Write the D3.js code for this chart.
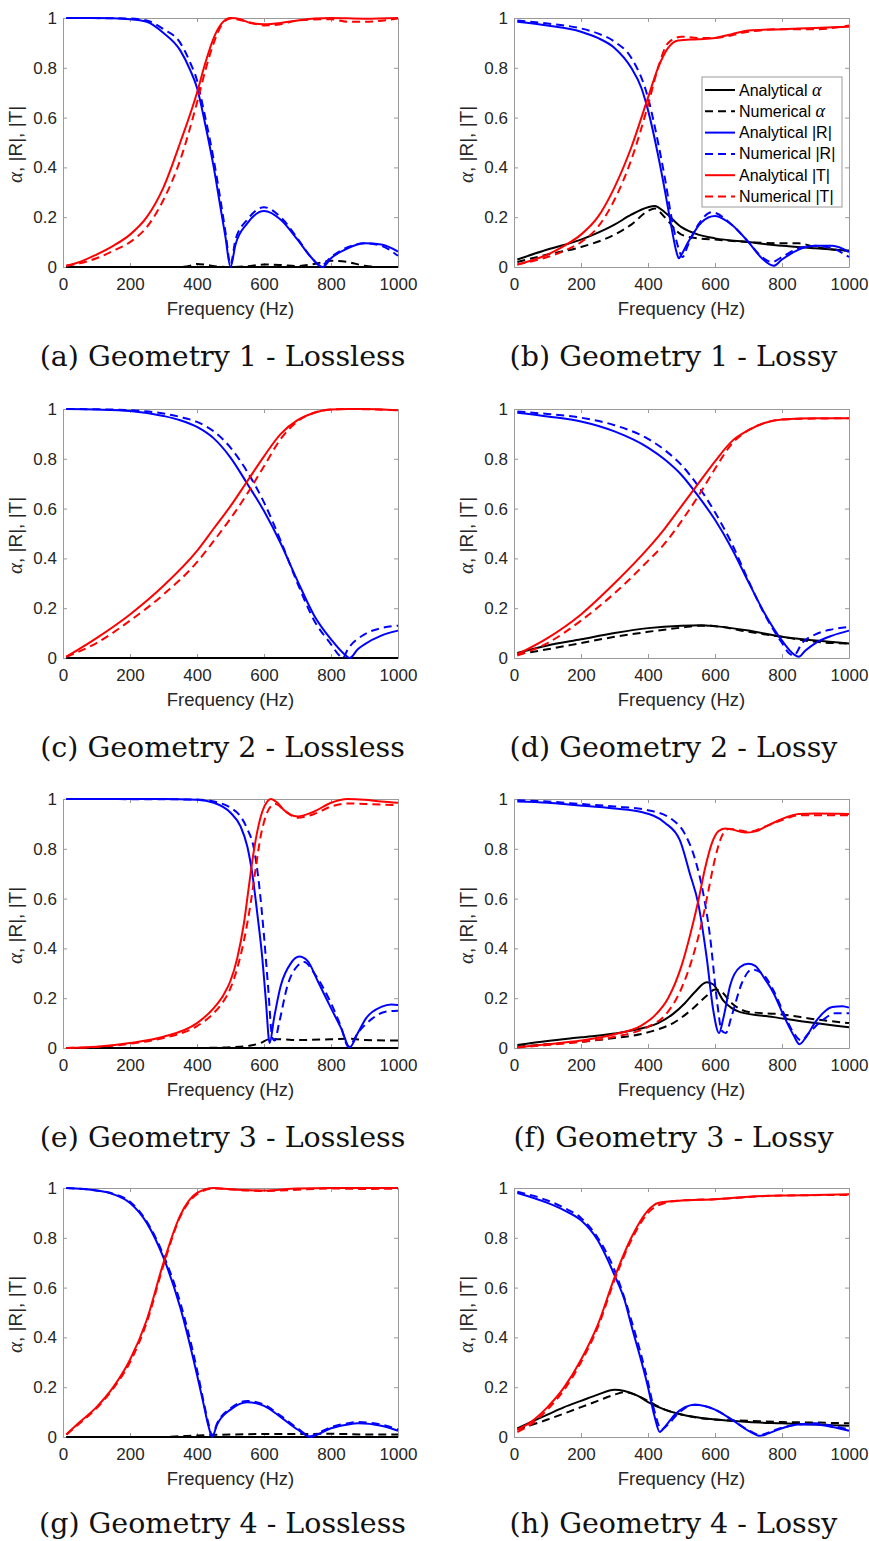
<!DOCTYPE html>
<html>
<head>
<meta charset="utf-8">
<script src="https://cdn.jsdelivr.net/npm/d3@7"></script>
<style>
  body { margin: 0; background: #fff; }
</style>
</head>
<body>
<div id="chart"></div>
<script>
// ---- axis ticks / labels ----
const xTicks = [0, 200, 400, 600, 800, 1000];
const yTicks = [0, 0.2, 0.4, 0.6, 0.8, 1];
const captions = [
  '(a) Geometry 1 - Lossless', '(b) Geometry 1 - Lossy',
  '(c) Geometry 2 - Lossless', '(d) Geometry 2 - Lossy',
  '(e) Geometry 3 - Lossless', '(f) Geometry 3 - Lossy',
  '(g) Geometry 4 - Lossless', '(h) Geometry 4 - Lossy'
];
const legendNames = ['Analytical ', 'Numerical ', 'Analytical |R|', 'Numerical |R|', 'Analytical |T|', 'Numerical |T|'];

// ---- data: [frequency (Hz), value] ----
// Geometry 1 lossless
const g1lAa = [[10,0],[1000,0]];
const g1lAn = [[10,0],[350,0],[380,0.005],[400,0.012],[430,0.008],[460,0.002],[500,0],[550,0.003],[600,0.01],[650,0.008],[700,0.004],[750,0.012],[800,0.025],[850,0.02],[900,0.005],[950,0],[1000,0]];
const g1lRa = [[10,1],[100,1],[200,0.995],[250,0.985],[300,0.94],[350,0.87],[380,0.79],[400,0.72],[425,0.57],[450,0.40],[470,0.24],[485,0.12],[500,0.0],[515,0.09],[550,0.175],[600,0.225],[650,0.19],[700,0.11],[740,0.04],[775,0.0],[800,0.035],[850,0.075],[900,0.095],[950,0.09],[1000,0.062]];
const g1lRn = [[10,1],[200,0.998],[250,0.99],[300,0.955],[350,0.9],[380,0.82],[400,0.75],[420,0.63],[450,0.43],[470,0.27],[485,0.14],[500,0.01],[515,0.11],[550,0.19],[600,0.24],[650,0.2],[700,0.115],[740,0.04],[770,0.005],[800,0.04],[850,0.08],[900,0.095],[950,0.085],[1000,0.045]];
const g1lTa = [[10,0.005],[50,0.02],[100,0.05],[150,0.085],[200,0.13],[250,0.2],[300,0.32],[350,0.5],[400,0.7],[425,0.82],[450,0.92],[475,0.98],[500,1.0],[530,0.995],[560,0.98],[600,0.975],[650,0.98],[700,0.99],[750,0.998],[800,1.0],[900,0.997],[1000,1.0]];
const g1lTn = [[10,0.005],[50,0.015],[100,0.035],[150,0.065],[200,0.1],[250,0.16],[300,0.27],[350,0.43],[400,0.66],[425,0.79],[450,0.9],[475,0.975],[500,0.998],[550,0.985],[600,0.97],[650,0.975],[700,0.99],[800,0.995],[850,0.985],[900,0.985],[1000,0.998]];
// Geometry 1 lossy
const g1yAa = [[10,0.03],[100,0.07],[200,0.11],[300,0.17],[350,0.21],[400,0.24],[420,0.245],[450,0.22],[500,0.16],[550,0.13],[600,0.115],[700,0.1],[800,0.085],[900,0.075],[1000,0.065]];
const g1yAn = [[10,0.02],[100,0.05],[200,0.08],[300,0.13],[350,0.17],[400,0.225],[420,0.235],[450,0.2],[500,0.13],[550,0.115],[600,0.11],[700,0.1],[800,0.095],[850,0.095],[900,0.08],[1000,0.065]];
const g1yRa = [[10,0.985],[100,0.97],[200,0.945],[250,0.92],[300,0.88],[350,0.8],[380,0.72],[400,0.63],[430,0.45],[450,0.31],[470,0.16],[485,0.06],[492,0.035],[500,0.05],[520,0.1],[560,0.18],[600,0.205],[650,0.17],[700,0.1],[740,0.035],[775,0.005],[800,0.03],[850,0.07],[900,0.085],[950,0.085],[1000,0.06]];
const g1yRn = [[10,0.99],[100,0.978],[200,0.958],[250,0.938],[300,0.905],[350,0.84],[400,0.68],[430,0.5],[450,0.36],[470,0.2],[490,0.08],[503,0.04],[520,0.09],[550,0.17],[590,0.22],[650,0.17],[700,0.1],[740,0.04],[770,0.02],[800,0.04],[850,0.075],[900,0.085],[950,0.075],[1000,0.04]];
const g1yTa = [[10,0.01],[100,0.05],[150,0.085],[200,0.13],[250,0.2],[300,0.32],[350,0.48],[400,0.68],[430,0.8],[460,0.88],[490,0.91],[550,0.915],[600,0.92],[650,0.935],[700,0.95],[800,0.955],[900,0.96],[1000,0.965]];
const g1yTn = [[10,0.01],[100,0.04],[150,0.065],[200,0.1],[250,0.16],[300,0.27],[350,0.43],[400,0.65],[430,0.8],[460,0.9],[500,0.925],[550,0.92],[600,0.92],[700,0.945],[800,0.955],[900,0.955],[1000,0.97]];
// Geometry 2 lossless
const g2lAa = [[10,0],[1000,0]];
const g2lAn = [[10,0],[1000,0]];
const g2lRa = [[10,1],[100,0.998],[200,0.992],[300,0.972],[350,0.955],[400,0.928],[450,0.882],[500,0.805],[550,0.7],[600,0.59],[650,0.46],[700,0.31],[750,0.17],[800,0.075],[840,0.015],[856,0],[880,0.035],[900,0.055],[950,0.09],[1000,0.11]];
const g2lRn = [[10,1],[100,0.999],[200,0.995],[300,0.982],[350,0.968],[400,0.948],[450,0.91],[500,0.845],[550,0.748],[600,0.625],[650,0.47],[700,0.3],[750,0.15],[800,0.055],[825,0.01],[835,0],[850,0.035],[900,0.095],[950,0.12],[1000,0.13]];
const g2lTa = [[10,0.005],[100,0.08],[200,0.175],[300,0.29],[400,0.43],[450,0.52],[500,0.61],[550,0.71],[600,0.81],[650,0.9],[700,0.955],[750,0.985],[800,0.998],[850,1.0],[900,1.0],[1000,0.995]];
const g2lTn = [[10,0.005],[100,0.06],[200,0.15],[300,0.255],[400,0.385],[450,0.47],[500,0.56],[550,0.66],[600,0.77],[650,0.88],[700,0.95],[750,0.985],[800,0.998],[850,1.0],[1000,0.995]];
// Geometry 2 lossy
const g2yAa = [[10,0.02],[100,0.05],[200,0.075],[300,0.1],[400,0.12],[500,0.13],[560,0.132],[600,0.128],[700,0.11],[800,0.085],[900,0.07],[1000,0.058]];
const g2yAn = [[10,0.015],[100,0.035],[200,0.06],[300,0.085],[400,0.105],[500,0.122],[560,0.13],[600,0.128],[700,0.105],[800,0.085],[900,0.065],[1000,0.058]];
const g2yRa = [[10,0.985],[100,0.97],[200,0.95],[300,0.91],[400,0.845],[450,0.797],[500,0.735],[550,0.65],[600,0.555],[650,0.44],[700,0.305],[750,0.175],[800,0.07],[835,0.015],[850,0.005],[870,0.03],[900,0.06],[950,0.09],[1000,0.11]];
const g2yRn = [[10,0.99],[100,0.98],[200,0.965],[300,0.935],[400,0.88],[450,0.835],[500,0.775],[550,0.69],[600,0.585],[650,0.46],[700,0.31],[750,0.17],[800,0.06],[820,0.02],[835,0.01],[860,0.06],[900,0.095],[950,0.115],[1000,0.125]];
const g2yTa = [[10,0.015],[100,0.08],[200,0.175],[300,0.3],[400,0.44],[450,0.52],[500,0.61],[550,0.7],[600,0.79],[650,0.87],[700,0.915],[750,0.945],[800,0.958],[900,0.963],[1000,0.963]];
const g2yTn = [[10,0.01],[100,0.06],[200,0.15],[300,0.26],[400,0.39],[450,0.46],[500,0.55],[550,0.65],[600,0.76],[650,0.86],[700,0.915],[750,0.945],[800,0.958],[1000,0.963]];
// Geometry 3 lossless
const g3lAa = [[10,0],[1000,0]];
const g3lAn = [[10,0],[400,0],[450,0.001],[500,0.003],[560,0.01],[590,0.02],[615,0.035],[650,0.035],[700,0.032],[800,0.035],[860,0.037],[900,0.032],[1000,0.03]];
const g3lRa = [[10,1],[300,1],[400,0.997],[450,0.985],[500,0.945],[530,0.89],[550,0.81],[565,0.7],[580,0.54],[595,0.36],[605,0.2],[617,0.02],[630,0.12],[650,0.25],[680,0.34],[705,0.367],[730,0.35],[760,0.27],[800,0.16],[830,0.08],[856,0.003],[880,0.06],[905,0.12],[950,0.165],[980,0.175],[1000,0.173]];
const g3lRn = [[10,1],[400,0.998],[450,0.99],[500,0.965],[530,0.93],[550,0.88],[570,0.8],[585,0.66],[600,0.45],[612,0.25],[625,0.04],[632,0.03],[645,0.1],[670,0.25],[700,0.33],[720,0.345],[750,0.3],[800,0.18],[830,0.085],[852,0.005],[880,0.06],[920,0.115],[960,0.145],[1000,0.15]];
const g3lTa = [[10,0],[100,0.005],[200,0.02],[300,0.045],[400,0.1],[450,0.16],[480,0.215],[500,0.27],[520,0.36],[540,0.5],[555,0.65],[565,0.75],[580,0.87],[595,0.95],[610,0.99],[620,1.0],[640,0.985],[660,0.955],[700,0.93],[750,0.95],[800,0.985],[850,1.0],[900,0.997],[950,0.99],[1000,0.985]];
const g3lTn = [[10,0],[100,0.004],[200,0.017],[300,0.04],[400,0.088],[450,0.14],[480,0.19],[500,0.24],[520,0.32],[540,0.43],[560,0.58],[575,0.72],[590,0.85],[605,0.93],[620,0.97],[635,0.98],[660,0.955],[700,0.925],[750,0.94],[800,0.97],[850,0.982],[900,0.98],[1000,0.975]];
// Geometry 3 lossy
const g3yAa = [[10,0.012],[100,0.028],[200,0.043],[300,0.058],[376,0.077],[430,0.1],[475,0.137],[510,0.18],[540,0.225],[575,0.264],[595,0.255],[625,0.19],[650,0.16],[675,0.144],[775,0.124],[875,0.104],[1000,0.083]];
const g3yAn = [[10,0.005],[100,0.015],[200,0.025],[300,0.04],[376,0.055],[430,0.075],[475,0.1],[535,0.16],[575,0.21],[600,0.235],[620,0.225],[650,0.18],[700,0.145],[800,0.135],[900,0.115],[1000,0.1]];
const g3yRa = [[10,0.99],[100,0.985],[180,0.976],[300,0.962],[380,0.948],[450,0.905],[495,0.835],[525,0.7],[550,0.58],[575,0.365],[595,0.15],[612,0.06],[625,0.12],[645,0.25],[675,0.325],[700,0.338],[720,0.33],[745,0.285],[775,0.22],[805,0.13],[835,0.05],[852,0.015],[870,0.04],[900,0.105],[950,0.165],[980,0.168],[1000,0.162]];
const g3yRn = [[10,0.995],[100,0.99],[200,0.98],[300,0.97],[400,0.955],[470,0.92],[510,0.86],[540,0.76],[565,0.62],[585,0.45],[605,0.2],[620,0.07],[632,0.06],[650,0.13],[680,0.26],[710,0.315],[740,0.3],[775,0.23],[805,0.14],[835,0.06],[858,0.03],[880,0.06],[920,0.11],[960,0.14],[1000,0.14]];
const g3yTa = [[10,0.003],[100,0.015],[200,0.03],[300,0.055],[380,0.09],[420,0.13],[460,0.2],[500,0.33],[525,0.45],[550,0.59],[570,0.72],[590,0.82],[610,0.87],[630,0.882],[650,0.878],[690,0.865],[720,0.87],[760,0.895],[800,0.92],[850,0.94],[900,0.942],[1000,0.94]];
const g3yTn = [[10,0.002],[100,0.012],[200,0.025],[300,0.045],[400,0.085],[450,0.13],[500,0.24],[530,0.35],[560,0.5],[580,0.63],[600,0.76],[620,0.85],[640,0.88],[660,0.878],[700,0.868],[750,0.89],[800,0.915],[850,0.935],[900,0.935],[1000,0.935]];
// Geometry 4 lossless
const g4lAa = [[10,0],[1000,0]];
const g4lAn = [[10,0],[300,0],[350,0.003],[400,0.006],[500,0.01],[600,0.012],[700,0.012],[800,0.013],[900,0.01],[1000,0.01]];
const g4lRa = [[10,1],[100,0.99],[150,0.975],[200,0.94],[250,0.86],[300,0.72],[350,0.52],[400,0.25],[420,0.13],[435,0.04],[445,0.0],[460,0.05],[500,0.11],[550,0.14],[600,0.125],[650,0.08],[700,0.03],[740,0.0],[760,0.01],[800,0.035],[850,0.05],[880,0.055],[950,0.045],[1000,0.025]];
const g4lRn = [[10,1],[100,0.99],[150,0.977],[200,0.945],[250,0.865],[300,0.73],[350,0.54],[400,0.27],[420,0.14],[435,0.05],[445,0.005],[460,0.055],[500,0.115],[550,0.145],[600,0.13],[650,0.085],[700,0.035],[740,0.003],[760,0.015],[800,0.04],[850,0.055],[880,0.06],[950,0.05],[1000,0.03]];
const g4lTa = [[10,0.01],[50,0.06],[100,0.12],[150,0.2],[200,0.31],[250,0.47],[300,0.7],[350,0.89],[400,0.98],[450,1.0],[500,0.995],[600,0.99],[700,0.998],[800,1.0],[1000,1.0]];
const g4lTn = [[10,0.01],[50,0.055],[100,0.115],[150,0.195],[200,0.3],[250,0.46],[300,0.69],[350,0.885],[400,0.975],[450,0.998],[550,0.99],[600,0.988],[800,0.998],[900,0.996],[1000,0.998]];
// Geometry 4 lossy
const g4yAa = [[10,0.035],[50,0.06],[100,0.09],[150,0.12],[200,0.145],[250,0.17],[300,0.19],[330,0.185],[370,0.165],[400,0.14],[450,0.11],[500,0.09],[600,0.07],[700,0.06],[800,0.055],[900,0.05],[1000,0.045]];
const g4yAn = [[10,0.03],[100,0.07],[200,0.12],[250,0.145],[300,0.17],[330,0.18],[370,0.165],[400,0.145],[450,0.11],[500,0.09],[600,0.07],[700,0.065],[800,0.06],[900,0.058],[1000,0.055]];
const g4yRa = [[10,0.98],[100,0.94],[150,0.91],[200,0.87],[250,0.79],[300,0.65],[330,0.55],[350,0.45],[400,0.2],[420,0.08],[435,0.02],[450,0.04],[480,0.09],[540,0.13],[600,0.11],[650,0.07],[700,0.025],[735,0.005],[760,0.015],[800,0.035],[850,0.05],[900,0.05],[950,0.04],[1000,0.025]];
const g4yRn = [[10,0.985],[100,0.95],[150,0.92],[200,0.88],[250,0.8],[300,0.67],[350,0.47],[400,0.22],[420,0.1],[440,0.03],[460,0.05],[490,0.095],[540,0.13],[600,0.11],[650,0.07],[700,0.027],[735,0.008],[760,0.018],[800,0.038],[850,0.05],[900,0.055],[950,0.045],[1000,0.03]];
const g4yTa = [[10,0.03],[50,0.06],[100,0.12],[150,0.2],[200,0.31],[250,0.45],[300,0.64],[350,0.8],[400,0.91],[430,0.94],[500,0.95],[600,0.955],[700,0.965],[800,0.97],[900,0.972],[1000,0.975]];
const g4yTn = [[10,0.02],[50,0.05],[100,0.11],[150,0.19],[200,0.3],[250,0.44],[300,0.63],[350,0.79],[400,0.9],[450,0.94],[500,0.95],[600,0.955],[800,0.97],[1000,0.972]];

// series styles in legend order: alpha, |R|, |T| (analytical solid, numerical dashed)
const seriesColors = ['#000000', '#000000', '#0000ff', '#0000ff', '#ff0000', '#ff0000'];
const seriesDashed = [false, true, false, true, false, true];

const panelSeries = [
  [g1lAa, g1lAn, g1lRa, g1lRn, g1lTa, g1lTn],
  [g1yAa, g1yAn, g1yRa, g1yRn, g1yTa, g1yTn],
  [g2lAa, g2lAn, g2lRa, g2lRn, g2lTa, g2lTn],
  [g2yAa, g2yAn, g2yRa, g2yRn, g2yTa, g2yTn],
  [g3lAa, g3lAn, g3lRa, g3lRn, g3lTa, g3lTn],
  [g3yAa, g3yAn, g3yRa, g3yRn, g3yTa, g3yTn],
  [g4lAa, g4lAn, g4lRa, g4lRn, g4lTa, g4lTn],
  [g4yAa, g4yAn, g4yRa, g4yRn, g4yTa, g4yTn]
];

// ---- layout ----
const W = 869, H = 1541;
const colX = [63, 514];
const rowY = [18, 409, 799, 1188];
const pw = 335, ph = 249;
const axisGray = '#262626';
const boxGray = '#9a9a9a';
const sans = 'Liberation Sans, Arial, sans-serif';

const svg = d3.select('#chart').append('svg')
  .attr('width', W).attr('height', H)
  .attr('viewBox', `0 0 ${W} ${H}`);

const x = d3.scaleLinear().domain([0, 1000]).range([0, pw]);
const y = d3.scaleLinear().domain([0, 1]).range([ph, 0]);

const line = d3.line()
  .x((d) => x(d[0]))
  .y((d) => y(d[1]))
  .curve(d3.curveMonotoneX);

panelSeries.forEach((series, i) => {
  const col = i % 2, row = Math.floor(i / 2);
  const g = svg.append('g').attr('transform', `translate(${colX[col]},${rowY[row]})`);

  // axes with inward ticks, mirrored on top / right (box on)
  const axes = [
    g.append('g').attr('transform', `translate(0,${ph})`)
      .call(d3.axisBottom(x).tickValues(xTicks).tickSizeInner(-4).tickSizeOuter(0).tickPadding(11).tickFormat(d3.format('d'))),
    g.append('g')
      .call(d3.axisLeft(y).tickValues(yTicks).tickSizeInner(-4).tickSizeOuter(0).tickPadding(6).tickFormat((d) => String(+d.toFixed(1)))),
    g.append('g')
      .call(d3.axisTop(x).tickValues(xTicks).tickSizeInner(-4).tickSizeOuter(0).tickFormat('')),
    g.append('g').attr('transform', `translate(${pw},0)`)
      .call(d3.axisRight(y).tickValues(yTicks).tickSizeInner(-4).tickSizeOuter(0).tickFormat(''))
  ];
  axes.forEach((a) => {
    a.selectAll('.domain').attr('stroke', boxGray).attr('stroke-width', 1);
    a.selectAll('.tick line').attr('stroke', boxGray);
    a.selectAll('text').attr('fill', axisGray).attr('font-size', 17).attr('font-family', sans);
  });

  // curves
  series.forEach((data, k) => {
    g.append('path')
      .attr('d', line(data))
      .attr('fill', 'none')
      .attr('stroke', seriesColors[k])
      .attr('stroke-width', 2)
      .attr('stroke-dasharray', seriesDashed[k] ? '8,5' : null);
  });

  // axis labels
  g.append('text')
    .attr('x', pw / 2).attr('y', ph + 48)
    .attr('text-anchor', 'middle')
    .attr('font-family', sans).attr('font-size', 18.5).attr('fill', axisGray)
    .text('Frequency (Hz)');
  const yl = g.append('text')
    .attr('transform', `translate(-41,${ph / 2 + 2}) rotate(-90)`)
    .attr('text-anchor', 'middle')
    .attr('font-family', sans).attr('font-size', 19).attr('fill', axisGray);
  yl.append('tspan').attr('font-family', 'Liberation Serif, serif').attr('font-style', 'italic').attr('font-size', 21).text('α');
  yl.append('tspan').text(', |R|, |T|');

  // caption (bottom row sits at the page edge, as in the reference)
  svg.append('text')
    .attr('x', colX[col] + pw / 2 - 8)
    .attr('y', rowY[row] + ph + (row === 3 ? 96 : 99))
    .attr('text-anchor', 'middle')
    .attr('font-family', 'DejaVu Serif, serif').attr('font-size', 28.5).attr('fill', '#111')
    .text(captions[i]);

  // legend only on panel (b)
  if (i === 1) {
    const lx = 702 - colX[1], ly = 77 - rowY[0];
    const leg = g.append('g').attr('transform', `translate(${lx},${ly})`);
    leg.append('rect').attr('width', 140).attr('height', 130)
      .attr('fill', '#fff').attr('stroke', boxGray).attr('stroke-width', 1);
    legendNames.forEach((name, k) => {
      const cy = 13 + k * 21.3;
      leg.append('line').attr('x1', 3).attr('x2', 33).attr('y1', cy).attr('y2', cy)
        .attr('stroke', seriesColors[k]).attr('stroke-width', 2)
        .attr('stroke-dasharray', seriesDashed[k] ? '8,5' : null);
      const t = leg.append('text').attr('x', 37).attr('y', cy + 5.5)
        .attr('font-family', sans).attr('font-size', 16).attr('fill', '#000');
      t.append('tspan').text(name);
      if (k < 2) {
        t.append('tspan').attr('font-family', 'Liberation Serif, serif').attr('font-style', 'italic').attr('font-size', 18).text('α');
      }
    });
  }
});
</script>
</body>
</html>
